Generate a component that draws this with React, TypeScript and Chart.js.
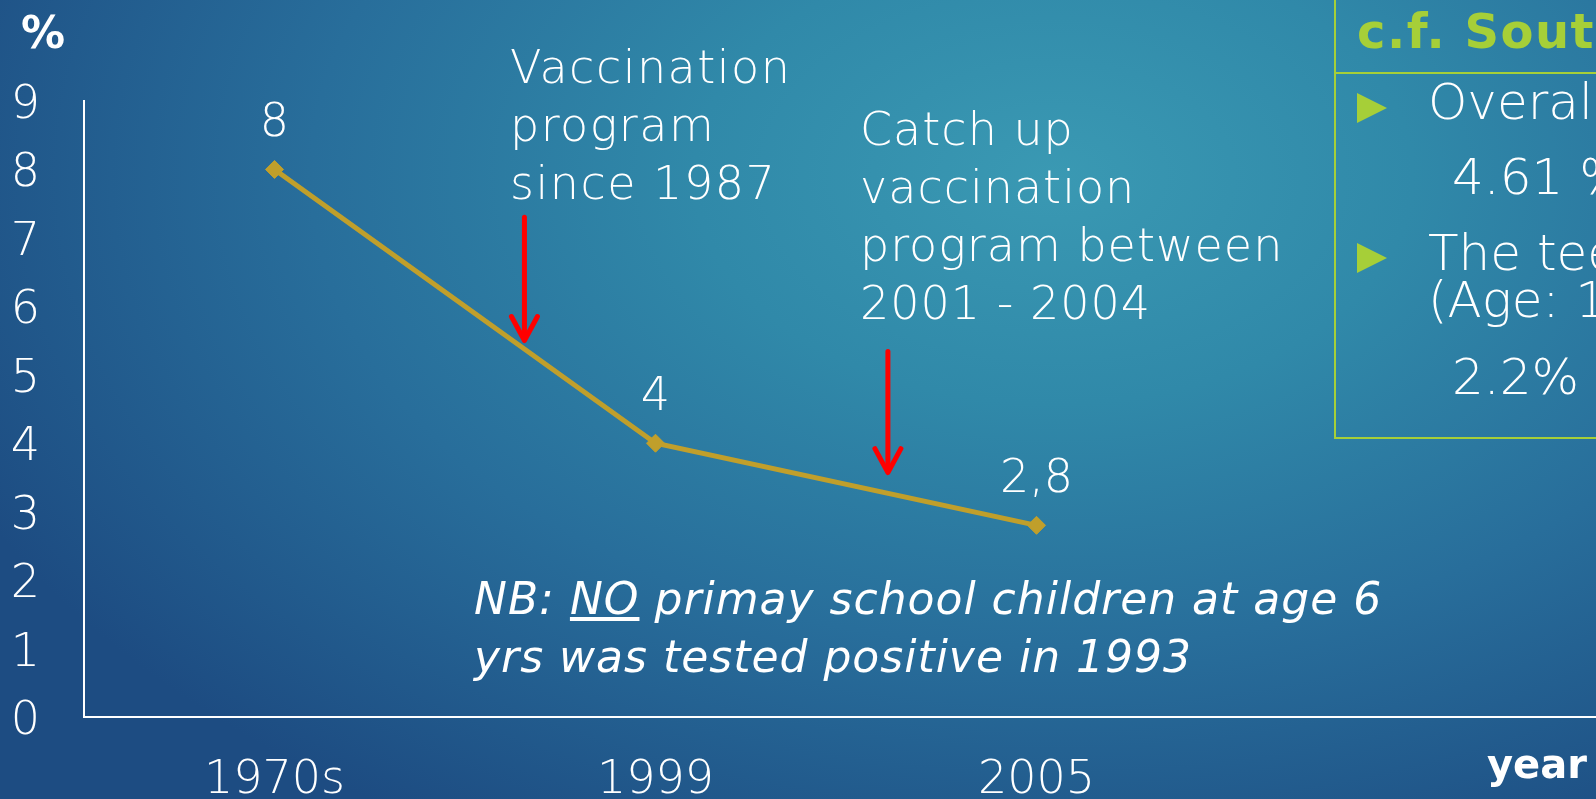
import React, { useEffect, useRef } from 'react';
import { Chart, registerables } from 'chart.js';

Chart.register(...registerables);

// ---- data ----
const categories = ['1970s', '1999', '2005'];
const prevalence = [8, 4, 2.8];
const valueLabels = ['8', '4', '2,8'];
const yMin = 0;
const yMax = 9;
// arrows: position along category index, start value, tip value
const arrowAt = [0.656, 1.61];
const arrowFrom = [7.3, 5.34];
const arrowTo = [5.5, 3.57];

const FONT = "'DejaVu Sans', 'Lato', sans-serif";
const LIGHT = 200;
const WHITE = '#ffffff';
const GOLD = '#C09F2B';
const GREEN = '#A6CF38';

const extrasPlugin = {
  id: 'extras',
  afterDatasetsDraw(chart: any) {
    const { ctx, chartArea, scales } = chart;
    const x = scales.x;
    const y = scales.y;
    ctx.save();
    // extend x baseline to canvas right edge
    ctx.strokeStyle = WHITE;
    ctx.lineWidth = 2;
    ctx.beginPath();
    ctx.moveTo(chartArea.right - 1, y.getPixelForValue(0));
    ctx.lineTo(chart.width, y.getPixelForValue(0));
    ctx.stroke();

    // value labels
    const meta = chart.getDatasetMeta(0);
    ctx.fillStyle = WHITE;
    ctx.font = `${LIGHT} 46px ${FONT}`;
    ctx.textAlign = 'center';
    ctx.textBaseline = 'middle';
    meta.data.forEach((pt: any, i: number) => {
      ctx.fillText(valueLabels[i], pt.x, pt.y - 45);
    });

    // red arrows
    ctx.strokeStyle = '#FF0000';
    ctx.lineWidth = 5;
    ctx.lineCap = 'round';
    ctx.lineJoin = 'round';
    arrowAt.forEach((a, i) => {
      const px = x.getPixelForValue(a);
      const y0 = y.getPixelForValue(arrowFrom[i]);
      const y1 = y.getPixelForValue(arrowTo[i]);
      ctx.beginPath();
      ctx.moveTo(px, y0);
      ctx.lineTo(px, y1 - 2);
      ctx.stroke();
      ctx.beginPath();
      ctx.moveTo(px - 13, y1 - 24);
      ctx.lineTo(px, y1);
      ctx.lineTo(px + 13, y1 - 24);
      ctx.stroke();
    });
    ctx.restore();
  },
};

export default function App() {
  const ref = useRef<HTMLCanvasElement>(null);

  useEffect(() => {
    if (!ref.current) return;
    const chart = new Chart(ref.current, {
      type: 'line',
      data: {
        labels: categories,
        datasets: [
          {
            data: prevalence,
            borderColor: GOLD,
            backgroundColor: GOLD,
            borderWidth: 5,
            pointStyle: 'rectRot',
            pointRadius: 9,
            pointBorderWidth: 1,
            pointBackgroundColor: GOLD,
            pointBorderColor: GOLD,
            tension: 0,
          },
        ],
      },
      options: {
        animation: false,
        responsive: false,
        devicePixelRatio: 1,
        layout: { padding: { top: 101, right: 369, left: 0, bottom: 0 } },
        plugins: { legend: { display: false }, tooltip: { enabled: false }, title: { display: false } },
        scales: {
          x: {
            type: 'category',
            offset: true,
            grid: { display: false },
            border: { display: true, color: WHITE, width: 2 },
            ticks: {
              color: WHITE,
              font: { family: FONT, size: 46, weight: String(LIGHT) as any },
              padding: 28,
              maxRotation: 0,
              autoSkip: false,
            },
            afterFit: (s: any) => {
              s.height = 82;
            },
          },
          y: {
            min: yMin,
            max: yMax,
            grid: { display: false },
            border: { display: true, color: WHITE, width: 2 },
            ticks: {
              stepSize: 1,
              color: WHITE,
              font: { family: FONT, size: 46, weight: String(LIGHT) as any },
              padding: 36,
              labelOffset: 5,
            },
            afterFit: (s: any) => {
              s.width = 84;
            },
          },
        },
      },
      plugins: [extrasPlugin],
    });
    return () => chart.destroy();
  }, []);

  const base: React.CSSProperties = {
    position: 'absolute',
    color: WHITE,
    fontFamily: FONT,
    fontWeight: LIGHT,
    whiteSpace: 'nowrap',
    margin: 0,
  };

  const tri: React.CSSProperties = {
    position: 'absolute',
    left: 1357,
    width: 0,
    height: 0,
    borderTop: '15px solid transparent',
    borderBottom: '15px solid transparent',
    borderLeft: `30px solid ${GREEN}`,
  };

  return (
    <div
      style={{
        position: 'fixed',
        left: 0,
        top: 0,
        width: 1596,
        height: 799,
        overflow: 'hidden',
        background:
          'radial-gradient(ellipse 75% 95% at 66% 22%, #3a99b3 0%, #3089a9 30%, #286e9b 62%, #1d4c82 100%)',
      }}
    >
      <canvas ref={ref} width={1596} height={799} style={{ position: 'absolute', left: 0, top: 0 }} />

      <div style={{ ...base, left: 21, top: 7, fontSize: 44, fontWeight: 700, lineHeight: '52px' }}>%</div>

      <div style={{ ...base, left: 510, top: 38, fontSize: 46, lineHeight: '58px', letterSpacing: '1.5px' }}>
        Vaccination
        <br />
        program
        <br />
        since 1987
      </div>

      <div style={{ ...base, left: 860, top: 100, fontSize: 46, lineHeight: '58px', letterSpacing: '1px' }}>
        Catch up
        <br />
        vaccination
        <br />
        program between
        <br />
        2001 - 2004
      </div>

      <div
        style={{
          ...base,
          left: 474,
          top: 570,
          fontSize: 44,
          lineHeight: '58px',
          fontStyle: 'italic',
          letterSpacing: '1px',
        }}
      >
        NB: <span style={{ textDecoration: 'underline' }}>NO</span> primay school children at age 6
        <br />
        yrs was tested positive in 1993
      </div>

      <div style={{ ...base, left: 1487, top: 740, fontSize: 40, fontWeight: 700, lineHeight: '49px' }}>year</div>

      {/* right box */}
      <div
        style={{
          position: 'absolute',
          left: 1334,
          top: -2,
          width: 400,
          height: 441,
          border: `2px solid ${GREEN}`,
          boxSizing: 'border-box',
        }}
      />
      <div style={{ position: 'absolute', left: 1334, top: 72, width: 300, height: 2, background: GREEN }} />
      <div
        style={{
          ...base,
          left: 1357,
          top: 2,
          fontSize: 48,
          fontWeight: 700,
          lineHeight: '58px',
          letterSpacing: '1.5px',
          color: GREEN,
        }}
      >
        c.f. South
      </div>
      <div style={{ ...tri, top: 93 }} />
      <div style={{ ...tri, top: 243 }} />
      <div style={{ ...base, left: 1428, top: 71, fontSize: 50, lineHeight: '62px' }}>Overall</div>
      <div style={{ ...base, left: 1452, top: 146, fontSize: 50, lineHeight: '62px' }}>4.61 %</div>
      <div style={{ ...base, left: 1428, top: 222, fontSize: 50, lineHeight: '62px' }}>The tee</div>
      <div style={{ ...base, left: 1428, top: 269, fontSize: 50, lineHeight: '62px' }}>(Age: 1</div>
      <div style={{ ...base, left: 1452, top: 346, fontSize: 50, lineHeight: '62px' }}>2.2% (</div>
    </div>
  );
}
